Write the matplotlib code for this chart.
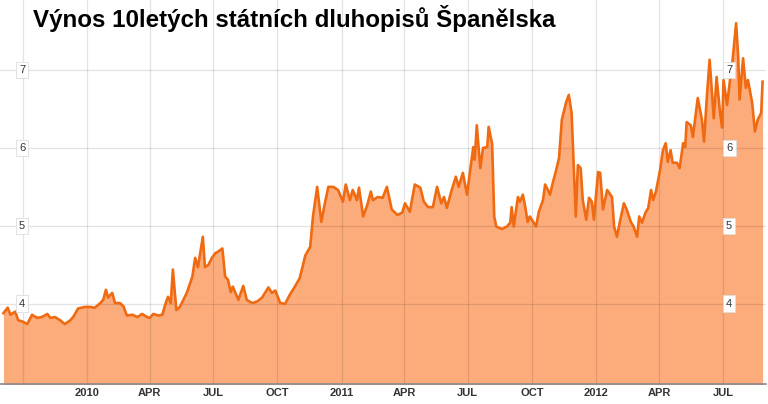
import matplotlib
matplotlib.use('Agg')
import matplotlib.pyplot as plt
import pandas as pd

# výnos 10letých španělských dluhopisů
datumy = ['2009-09-03', '2009-09-09', '2009-09-13', '2009-09-20', '2009-09-24', '2009-10-01',
          '2009-10-07', '2009-10-14', '2009-10-21', '2009-10-28', '2009-11-05', '2009-11-09',
          '2009-11-16', '2009-11-23', '2009-11-30', '2009-12-08', '2009-12-12', '2009-12-19',
          '2009-12-29', '2010-01-05', '2010-01-12', '2010-01-20', '2010-01-24', '2010-01-28',
          '2010-01-31', '2010-02-06', '2010-02-10', '2010-02-17', '2010-02-22', '2010-02-27',
          '2010-03-07', '2010-03-14', '2010-03-21', '2010-03-28', '2010-04-01', '2010-04-06',
          '2010-04-13', '2010-04-19', '2010-04-23', '2010-04-27', '2010-05-01', '2010-05-04',
          '2010-05-09', '2010-05-14', '2010-05-24', '2010-06-01', '2010-06-05', '2010-06-09',
          '2010-06-16', '2010-06-19', '2010-06-24', '2010-06-29', '2010-07-04', '2010-07-08',
          '2010-07-14', '2010-07-18', '2010-07-22', '2010-07-26', '2010-07-29', '2010-08-06',
          '2010-08-13', '2010-08-18', '2010-08-26', '2010-09-02', '2010-09-09', '2010-09-18',
          '2010-09-23', '2010-09-28', '2010-10-05', '2010-10-12', '2010-10-19', '2010-10-26',
          '2010-11-02', '2010-11-10', '2010-11-17', '2010-11-21', '2010-11-27', '2010-12-03',
          '2010-12-07', '2010-12-13', '2010-12-20', '2010-12-27', '2011-01-03', '2011-01-07',
          '2011-01-13', '2011-01-17', '2011-01-23', '2011-01-26', '2011-02-01', '2011-02-07',
          '2011-02-12', '2011-02-15', '2011-02-22', '2011-03-01', '2011-03-07', '2011-03-14',
          '2011-03-22', '2011-03-29', '2011-04-02', '2011-04-09', '2011-04-16', '2011-04-24',
          '2011-04-29', '2011-05-05', '2011-05-12', '2011-05-18', '2011-05-24', '2011-05-28',
          '2011-06-01', '2011-06-08', '2011-06-14', '2011-06-18', '2011-06-24', '2011-06-30',
          '2011-07-04', '2011-07-09', '2011-07-11', '2011-07-14', '2011-07-19', '2011-07-23',
          '2011-07-29', '2011-07-31', '2011-08-05', '2011-08-08', '2011-08-11', '2011-08-19',
          '2011-08-26', '2011-08-31', '2011-09-02', '2011-09-05', '2011-09-11', '2011-09-14',
          '2011-09-18', '2011-09-21', '2011-09-25', '2011-09-28', '2011-10-03', '2011-10-07',
          '2011-10-11', '2011-10-17', '2011-10-20', '2011-10-24', '2011-10-27', '2011-10-31',
          '2011-11-05', '2011-11-09', '2011-11-13', '2011-11-19', '2011-11-23', '2011-11-27',
          '2011-11-29', '2011-12-03', '2011-12-06', '2011-12-10', '2011-12-13', '2011-12-18',
          '2011-12-22', '2011-12-26', '2011-12-29', '2012-01-04', '2012-01-07', '2012-01-11',
          '2012-01-17', '2012-01-24', '2012-01-27', '2012-01-31', '2012-02-04', '2012-02-10',
          '2012-02-14', '2012-02-20', '2012-02-24', '2012-02-29', '2012-03-03', '2012-03-07',
          '2012-03-12', '2012-03-16', '2012-03-20', '2012-03-23', '2012-03-27', '2012-04-02',
          '2012-04-06', '2012-04-10', '2012-04-13', '2012-04-17', '2012-04-20', '2012-04-26',
          '2012-04-30', '2012-05-05', '2012-05-08', '2012-05-10', '2012-05-16', '2012-05-19',
          '2012-05-26', '2012-06-01', '2012-06-04', '2012-06-08', '2012-06-12', '2012-06-18',
          '2012-06-22', '2012-06-27', '2012-06-30', '2012-07-02', '2012-07-07', '2012-07-11',
          '2012-07-15', '2012-07-20', '2012-07-23', '2012-07-25', '2012-07-30', '2012-08-03',
          '2012-08-06', '2012-08-12', '2012-08-16', '2012-08-20', '2012-08-25', '2012-08-27']
vynos = [3.88, 3.95, 3.86, 3.90, 3.79, 3.77,
         3.74, 3.86, 3.82, 3.83, 3.87, 3.82,
         3.83, 3.79, 3.74, 3.79, 3.83, 3.94,
         3.96, 3.96, 3.95, 4.01, 4.05, 4.18,
         4.08, 4.14, 4.01, 4.01, 3.97, 3.85,
         3.86, 3.83, 3.87, 3.83, 3.82, 3.87,
         3.85, 3.86, 3.99, 4.09, 4.01, 4.44,
         3.92, 3.96, 4.14, 4.35, 4.59, 4.47,
         4.86, 4.47, 4.50, 4.59, 4.65, 4.67,
         4.71, 4.35, 4.31, 4.15, 4.22, 4.05,
         4.23, 4.05, 4.01, 4.03, 4.08, 4.21,
         4.14, 4.17, 4.01, 4.00, 4.12, 4.22,
         4.33, 4.62, 4.73, 5.12, 5.50, 5.05,
         5.24, 5.50, 5.50, 5.46, 5.31, 5.53,
         5.33, 5.46, 5.33, 5.49, 5.12, 5.27,
         5.44, 5.33, 5.37, 5.36, 5.50, 5.21,
         5.14, 5.17, 5.29, 5.18, 5.53, 5.49,
         5.31, 5.24, 5.24, 5.50, 5.29, 5.37,
         5.23, 5.46, 5.63, 5.50, 5.68, 5.40,
         5.68, 6.01, 5.85, 6.29, 5.74, 6.00,
         6.01, 6.27, 6.05, 5.12, 4.99, 4.96,
         4.99, 5.04, 5.24, 4.99, 5.37, 5.31,
         5.40, 5.27, 5.05, 5.12, 5.05, 4.99,
         5.18, 5.33, 5.53, 5.46, 5.40, 5.55,
         5.72, 5.87, 6.36, 6.58, 6.68, 6.45,
         6.01, 5.12, 5.78, 5.74, 5.33, 5.08,
         5.36, 5.31, 5.08, 5.69, 5.68, 5.21,
         5.46, 5.37, 4.99, 4.86, 5.04, 5.29,
         5.21, 5.05, 4.99, 4.86, 5.12, 5.04,
         5.17, 5.23, 5.46, 5.33, 5.44, 5.72,
         5.97, 6.06, 5.82, 5.97, 5.81, 5.81,
         5.74, 6.06, 6.01, 6.33, 6.29, 6.14,
         6.64, 6.36, 6.08, 6.65, 7.13, 6.38,
         6.91, 6.45, 6.26, 6.87, 6.55, 6.85,
         7.13, 7.60, 7.17, 6.62, 7.15, 6.77,
         6.87, 6.58, 6.21, 6.36, 6.45, 6.85]

mrizka_x = ['2009-10-01', '2010-01-01', '2010-04-01', '2010-07-01', '2010-10-01', '2011-01-01',
            '2011-04-01', '2011-07-01', '2011-10-01', '2012-01-01', '2012-04-01', '2012-07-01']
popisky_x = ['', '2010', 'APR', 'JUL', 'OCT', '2011', 'APR', 'JUL', 'OCT', '2012', 'APR', 'JUL']
hodnoty_y = [4, 5, 6, 7]

d = pd.to_datetime(datumy)

fig = plt.figure(figsize=(7.68, 4.04), dpi=100)
ax = fig.add_axes([0.0, 0.05, 0.9975, 0.95])

ax.fill_between(d, vynos, 2.9, color='#fcab7b', lw=0, zorder=1)
ax.plot(d, vynos, color='#f06a12', lw=1.9, zorder=2, solid_joinstyle='round')

ax.set_xlim(pd.Timestamp('2009-08-29'), pd.Timestamp('2012-09-01'))
ax.set_ylim(2.974, 7.897)

ax.set_xticks(pd.to_datetime(mrizka_x))
ax.set_xticklabels(popisky_x, fontfamily='Liberation Sans', fontweight='bold',
                   fontsize=8, color='#333333')
ax.set_yticks(hodnoty_y)
ax.tick_params(axis='x', length=0, pad=3)
ax.tick_params(axis='y', length=0, labelleft=False)
ax.set_axisbelow('line')
ax.grid(True, color='black', alpha=0.11, lw=0.9)

for s in ['top', 'left', 'right']:
    ax.spines[s].set_visible(False)
ax.spines['bottom'].set_color('#8a8a8a')
ax.spines['bottom'].set_linewidth(1.2)

# popisky hodnot v rámečcích vlevo a vpravo
for v in hodnoty_y:
    for xf in (22 / 766, 729 / 766):
        ax.text(xf, v, str(v), transform=ax.get_yaxis_transform(), ha='center', va='center',
                fontsize=8, color='#333333', fontfamily='Liberation Sans', zorder=5,
                bbox=dict(boxstyle='square,pad=0.3', fc='white', ec='#dddddd', lw=0.6))

fig.text(33 / 768, 1 - 18 / 404, 'Výnos 10letých státních dluhopisů Španělska',
         fontfamily='Liberation Sans', fontweight='bold', fontsize=17.4, color='black',
         ha='left', va='center')

fig.savefig('out.png', dpi=100)
